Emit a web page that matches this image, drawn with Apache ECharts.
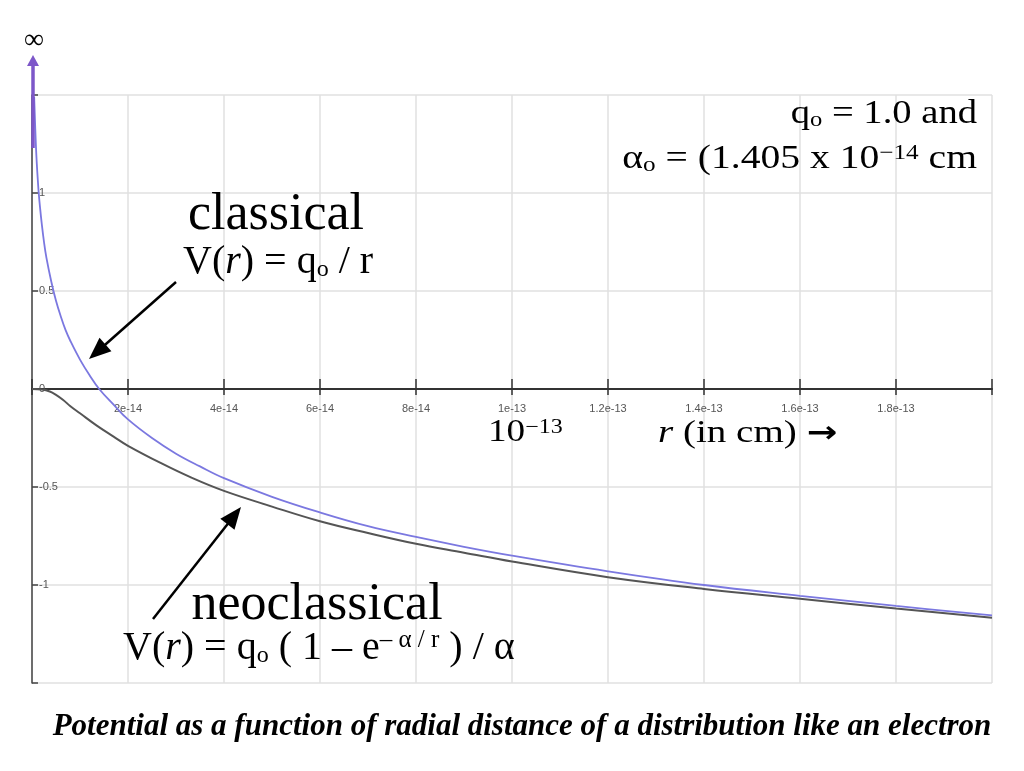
<!DOCTYPE html>
<html><head><meta charset="utf-8">
<script src="https://cdn.jsdelivr.net/npm/echarts@6/dist/echarts.min.js"></script>
<style>html,body{margin:0;padding:0;background:#fff}#c{width:1024px;height:771px}</style>
</head><body><div id="c"></div>
<script>
// r in units of 1e-14 cm
const xTickLabels = ['', '2e-14', '4e-14', '6e-14', '8e-14', '1e-13', '1.2e-13', '1.4e-13', '1.6e-13', '1.8e-13', ''];
const yTickValues = [-1, -0.5, 0, 0.5, 1];
const yTickLabels = ['-1', '-0.5', '0', '0.5', '1'];

const classicalR = [0.045, 0.08, 0.1, 0.12, 0.14, 0.17, 0.2, 0.25, 0.3, 0.4, 0.5, 0.6, 0.7, 0.8, 1.0, 1.2, 1.4, 1.7, 2, 2.5, 3, 3.5, 4, 5, 6, 7, 8, 9, 10, 12, 14, 16, 18, 20];
const classicalV = [1.49, 1.25, 1.15, 1.07, 1.0, 0.92, 0.85, 0.75, 0.67, 0.55, 0.45, 0.37, 0.30, 0.245, 0.15, 0.07, 0.0, -0.08, -0.155, -0.25, -0.33, -0.395, -0.455, -0.55, -0.63, -0.70, -0.755, -0.805, -0.85, -0.93, -1.0, -1.055, -1.107, -1.155];

const neoR = [0, 0.2, 0.37, 0.5, 0.65, 0.8, 1.0, 1.35, 1.7, 2, 2.7, 3.3, 4, 5, 6, 7, 8, 9, 10, 12, 14, 16, 18, 20];
const neoV = [0, -0.003, -0.013, -0.03, -0.056, -0.088, -0.124, -0.187, -0.243, -0.29, -0.38, -0.45, -0.52, -0.60, -0.675, -0.735, -0.79, -0.835, -0.88, -0.96, -1.02, -1.07, -1.12, -1.167];

const SERIF = '"Liberation Serif", "Times New Roman", serif';

function arrow(x1, y1, x2, y2, color, w, hl, hw) {
  const dx = x2 - x1, dy = y2 - y1, L = Math.hypot(dx, dy), ux = dx / L, uy = dy / L;
  const bx = x2 - ux * hl, by = y2 - uy * hl;
  return [
    {type: 'line', silent: true, z: 90, shape: {x1: x1, y1: y1, x2: bx + ux * 2, y2: by + uy * 2}, style: {stroke: color, lineWidth: w}},
    {type: 'polygon', silent: true, z: 90, shape: {points: [[x2, y2], [bx - uy * hw, by + ux * hw], [bx + uy * hw, by - ux * hw]]}, style: {fill: color}}
  ];
}
function txt(x, y, text, fs, align, rich, extra, sx) {
  const st = Object.assign({
    x: 0, y: 0, text: text, fill: '#000', fontSize: fs, fontFamily: SERIF,
    align: align, textAlign: align, verticalAlign: 'middle', textVerticalAlign: 'middle'
  }, extra || {});
  if (rich) st.rich = rich;
  return {type: 'text', silent: true, z: 100, x: x, y: y, scaleX: sx || 1, scaleY: 1, style: st};
}
const n40 = {fontSize: 40, fontFamily: SERIF, lineHeight: 40, fill: '#000'};
const i40 = {fontSize: 40, fontFamily: SERIF, fontStyle: 'italic', lineHeight: 40, fill: '#000'};
const s40 = {fontSize: 24, fontFamily: SERIF, lineHeight: 22, verticalAlign: 'bottom', fill: '#000'};

const chart = echarts.init(document.getElementById('c'));
const option = {
  animation: false,
  backgroundColor: '#fff',
  grid: {left: 32, top: 95, width: 960, height: 588, containLabel: false},
  xAxis: [{
    type: 'value', min: 0, max: 20, interval: 2, position: 'bottom',
    axisLine: {onZero: true, onZeroAxisIndex: 0, lineStyle: {color: '#333', width: 2}},
    axisTick: {show: true, inside: false, length: 6, lineStyle: {color: '#333', width: 1.5}},
    axisLabel: {show: true, margin: -280, fontSize: 11, color: '#555', fontFamily: '"Liberation Sans", Arial, sans-serif',
      formatter: function (v) { return xTickLabels[Math.round(v / 2)] || ''; }},
    splitLine: {show: true, lineStyle: {color: '#e0e0e0', width: 1.5}}
  }, {
    type: 'value', min: 0, max: 20, interval: 2, position: 'bottom',
    axisLine: {onZero: true, onZeroAxisIndex: 1, show: false},
    axisTick: {show: true, inside: true, length: 10, lineStyle: {color: '#333', width: 1.5}},
    axisLabel: {show: false}, splitLine: {show: false}
  }],
  yAxis: [{
    type: 'value', min: -1.5, max: 1.5, interval: 0.5,
    axisLine: {show: true, onZero: false, lineStyle: {color: '#444', width: 1.5}},
    axisTick: {show: true, inside: true, length: 6, lineStyle: {color: '#444', width: 1.5}},
    axisLabel: {inside: true, margin: 7, fontSize: 11, color: '#555', fontFamily: '"Liberation Sans", Arial, sans-serif',
      formatter: function (v) { const i = yTickValues.indexOf(Math.round(v * 10) / 10); return i >= 0 ? yTickLabels[i] : ''; }},
    splitLine: {show: true, lineStyle: {color: '#e0e0e0', width: 1.5}}
  }, {
    type: 'value', min: -1.5, max: 1.5, interval: 0.5, show: false,
    axisLine: {onZero: false}, splitLine: {show: false}
  }],
  series: [{
    type: 'line', name: 'neoclassical', data: neoR.map(function (r, i) { return [r, neoV[i]]; }),
    showSymbol: false, smooth: 0.4, lineStyle: {color: '#555', width: 2}, z: 3
  }, {
    type: 'line', name: 'classical', data: classicalR.map(function (r, i) { return [r, classicalV[i]]; }),
    showSymbol: false, smooth: 0.4, lineStyle: {color: '#7b78e0', width: 1.8}, z: 4
  }],
  graphic: [].concat(
    arrow(33, 148, 33, 55, '#7d57c9', 3.5, 11, 6),
    arrow(176, 282, 89, 359, '#000', 2.5, 22, 9),
    arrow(153, 619, 241, 507, '#000', 2.5, 22, 9),
    [
      txt(34, 41, '∞', 28, 'center'),
      txt(276, 215, 'classical', 52, 'center'),
      txt(183, 262, '{n|V(}{i|r}{n|) = q}{s|o}{n| / r}', 40, 'left', {n: n40, i: i40, s: s40}),
      txt(317, 605, 'neoclassical', 52, 'center'),
      txt(123, 648, '{n|V(}{i|r}{n|) = q}{s|o}{n| ( 1 – e}{sup|– α / r}{n| ) / α}', 40, 'left',
        {n: n40, i: i40, s: s40, sup: {fontSize: 25, fontFamily: SERIF, lineHeight: 11, verticalAlign: 'top', fill: '#000'}}),
      txt(488, 433, '{n|10}{sup|−13}', 31, 'left',
        {n: {fontSize: 31, fontFamily: SERIF, lineHeight: 31}, sup: {fontSize: 20, fontFamily: SERIF, lineHeight: 10, verticalAlign: 'top'}}, null, 1.2),
      txt(658, 434, '{i|r}{n| (in cm) }{b|→}', 32, 'left',
        {i: {fontSize: 32, fontFamily: SERIF, fontStyle: 'italic', lineHeight: 32}, n: {fontSize: 32, fontFamily: SERIF, lineHeight: 32},
         b: {fontSize: 30, fontFamily: '"DejaVu Sans", sans-serif', fontWeight: 'bold', lineHeight: 32}}, null, 1.22),
      txt(977, 114, '{n|q}{s|o}{n| = 1.0 and}', 33, 'right',
        {n: {fontSize: 33, fontFamily: SERIF, lineHeight: 33}, s: {fontSize: 21, fontFamily: SERIF, lineHeight: 19, verticalAlign: 'bottom'}}, null, 1.17),
      txt(977, 159, '{n|α}{s|o}{n| = (1.405 x 10}{sup|−14}{n| cm}', 33, 'right',
        {n: {fontSize: 33, fontFamily: SERIF, lineHeight: 33}, s: {fontSize: 21, fontFamily: SERIF, lineHeight: 19, verticalAlign: 'bottom'},
         sup: {fontSize: 21, fontFamily: SERIF, lineHeight: 10, verticalAlign: 'top'}}, null, 1.2),
      txt(522, 727, 'Potential as a function of radial distance of a distribution like an electron', 31, 'center', null,
        {fontStyle: 'italic', fontWeight: 'bold'})
    ]
  )
};
chart.setOption(option);
</script>
</body></html>
